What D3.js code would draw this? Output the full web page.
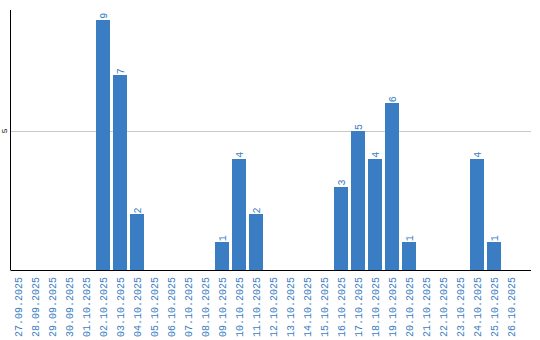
<!DOCTYPE html>
<html>
<head>
<meta charset="utf-8">
<script src="https://cdn.jsdelivr.net/npm/d3@7"></script>
<style>
  body { margin: 0; background: #fff; }
</style>
</head>
<body>
<div id="chart"></div>
<script>
const dates = ["27.09.2025", "28.09.2025", "29.09.2025", "30.09.2025", "01.10.2025",
  "02.10.2025", "03.10.2025", "04.10.2025", "05.10.2025", "06.10.2025",
  "07.10.2025", "08.10.2025", "09.10.2025", "10.10.2025", "11.10.2025",
  "12.10.2025", "13.10.2025", "14.10.2025", "15.10.2025", "16.10.2025",
  "17.10.2025", "18.10.2025", "19.10.2025", "20.10.2025", "21.10.2025",
  "22.10.2025", "23.10.2025", "24.10.2025", "25.10.2025", "26.10.2025"];
const counts = [0, 0, 0, 0, 0, 9, 7, 2, 0, 0, 0, 0, 1, 4, 2, 0, 0, 0, 0, 3, 5, 4, 6, 1, 0, 0, 0, 4, 1, 0];
const yTicks = [5];

const width = 540;
const height = 340;
const margin = { left: 10.5, right: 9, top: 10, bottom: 70 };
const blue = "#3a7dc2";
const font = "'Liberation Mono', 'DejaVu Sans Mono', monospace";

const data = dates.map((d, i) => ({ date: d, value: counts[i] }));

const svg = d3.select("#chart").append("svg")
    .attr("width", width)
    .attr("height", height);

const x = d3.scaleBand()
    .domain(dates)
    .range([9.5, 519.5])
    .paddingInner(0.18)
    .paddingOuter(0.09);

const y = d3.scaleLinear()
    .domain([0, 9.35])
    .range([height - margin.bottom, margin.top]);

// grid
svg.selectAll(".grid")
  .data(yTicks)
  .join("line")
    .attr("class", "grid")
    .attr("x1", margin.left)
    .attr("x2", width - margin.right)
    .attr("y1", d => Math.round(y(d)) + 0.5)
    .attr("y2", d => Math.round(y(d)) + 0.5)
    .attr("stroke", "#c8c8c8");

svg.selectAll(".ytick")
  .data(yTicks)
  .join("text")
    .attr("class", "ytick")
    .attr("transform", d => `translate(7, ${y(d)}) rotate(-90)`)
    .attr("text-anchor", "middle")
    .style("font-family", font)
    .style("font-size", "8px")
    .attr("fill", "black")
    .text(d => d);

// bars
svg.selectAll(".bar")
  .data(data.filter(d => d.value > 0))
  .join("rect")
    .attr("class", "bar")
    .attr("x", d => Math.round(x(d.date)))
    .attr("y", d => Math.round(y(d.value)))
    .attr("width", 14)
    .attr("height", d => y(0) - Math.round(y(d.value)))
    .attr("fill", blue);

svg.selectAll(".val")
  .data(data.filter(d => d.value > 0))
  .join("text")
    .attr("class", "val")
    .attr("transform", d => `translate(${x(d.date) + x.bandwidth() / 2 + 3.5}, ${y(d.value) - 1}) rotate(-90)`)
    .attr("text-anchor", "start")
    .style("font-family", font)
    .style("font-size", "10px")
    .attr("fill", blue)
    .text(d => d.value);

// x labels
const xAxis = svg.append("g")
    .attr("transform", `translate(0, ${height - margin.bottom})`)
    .call(d3.axisBottom(x).tickSize(0).tickPadding(0));
xAxis.select(".domain").remove();
xAxis.selectAll(".tick text")
    .attr("transform", "translate(0, 7) rotate(-90)")
    .attr("text-anchor", "end")
    .attr("dy", "0.35em")
    .attr("x", 0)
    .attr("y", 0)
    .style("font-family", font)
    .style("font-size", "10px")
    .attr("fill", blue);

// axis lines
svg.append("line")
    .attr("x1", margin.left)
    .attr("x2", margin.left)
    .attr("y1", margin.top)
    .attr("y2", height - margin.bottom)
    .attr("stroke", "black");

svg.append("line")
    .attr("x1", margin.left)
    .attr("x2", width - margin.right)
    .attr("y1", height - margin.bottom + 0.5)
    .attr("y2", height - margin.bottom + 0.5)
    .attr("stroke", "black");
</script>
</body>
</html>
